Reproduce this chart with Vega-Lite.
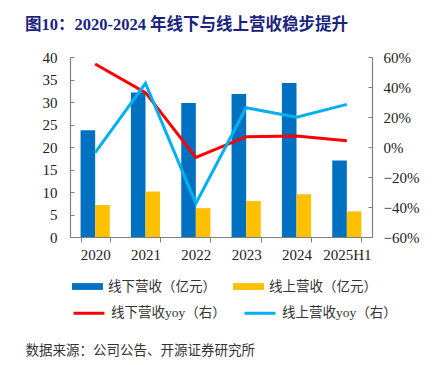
{
  "$schema": "https://vega.github.io/schema/vega-lite/v6.json",
  "autosize": "none",
  "width": 302,
  "height": 180,
  "padding": {"left": 70, "top": 57, "right": 65, "bottom": 128},
  "background": "white",
  "config": {"view": {"stroke": null}},
  "title": {
    "text": "图10：2020-2024 年线下与线上营收稳步提升",
    "anchor": "start",
    "frame": "group",
    "font": "Liberation Serif, Noto Sans CJK SC",
    "fontSize": 16.5,
    "fontWeight": "bold",
    "color": "#1a237e",
    "dx": -45,
    "baseline": "alphabetic",
    "offset": 4
  },
  "data": {
    "values": [
      {"year": "2020", "线下营收（亿元）": 23.7, "线上营收（亿元）": 7.1, "线下营收yoy（右）": 0.553, "线上营收yoy（右）": -0.038},
      {"year": "2021", "线下营收（亿元）": 32.1, "线上营收（亿元）": 10.1, "线下营收yoy（右）": 0.362, "线上营收yoy（右）": 0.424},
      {"year": "2022", "线下营收（亿元）": 29.8, "线上营收（亿元）": 6.4, "线下营收yoy（右）": -0.069, "线上营收yoy（右）": -0.376},
      {"year": "2023", "线下营收（亿元）": 31.8, "线上营收（亿元）": 8.0, "线下营收yoy（右）": 0.069, "线上营收yoy（右）": 0.262},
      {"year": "2024", "线下营收（亿元）": 34.2, "线上营收（亿元）": 9.5, "线下营收yoy（右）": 0.073, "线上营收yoy（右）": 0.198},
      {"year": "2025H1", "线下营收（亿元）": 17.0, "线上营收（亿元）": 5.7, "线下营收yoy（右）": 0.042, "线上营收yoy（右）": 0.284}
    ]
  },
  "encoding": {
    "x": {
      "field": "year",
      "type": "nominal",
      "sort": null,
      "scale": {"paddingInner": 0.42, "paddingOuter": 0.21},
      "axis": {
        "title": "数据来源：公司公告、开源证券研究所",
        "titleX": -45,
        "titleY": 113,
        "titleAlign": "left",
        "titleAnchor": null,
        "titleBaseline": "middle",
        "titleFont": "Noto Sans CJK SC",
        "titleFontSize": 13.5,
        "titleFontWeight": "normal",
        "titleColor": "#333333",
        "labelAngle": 0,
        "labelFont": "Liberation Serif",
        "labelFontSize": 15,
        "labelColor": "#222222",
        "labelPadding": 5,
        "tickBand": "extent",
        "tickSize": 5,
        "tickColor": "#808080",
        "domainColor": "#808080",
        "domainWidth": 1.2
      }
    }
  },
  "layer": [
    {
      "transform": [{"fold": ["线下营收（亿元）", "线上营收（亿元）"], "as": ["series", "value"]}],
      "mark": {"type": "bar"},
      "encoding": {
        "xOffset": {"field": "series", "type": "nominal", "sort": ["线下营收（亿元）", "线上营收（亿元）"]},
        "y": {
          "field": "value",
          "type": "quantitative",
          "scale": {"domain": [0, 40]},
          "axis": {
            "title": null,
            "values": [0, 5, 10, 15, 20, 25, 30, 35, 40],
            "grid": false,
            "labelFont": "Liberation Serif",
            "labelFontSize": 15,
            "labelColor": "#222222",
            "tickSize": -4,
            "labelPadding": 17,
            "tickColor": "#808080",
            "domainColor": "#808080",
            "domainWidth": 1.2
          }
        },
        "color": {
          "field": "series",
          "type": "nominal",
          "scale": {"domain": ["线下营收（亿元）", "线上营收（亿元）"], "range": ["#0070C0", "#FFC000"]},
          "legend": {
            "title": null,
            "orient": "none",
            "legendX": 2,
            "legendY": 214,
            "columns": 2,
            "columnPadding": 17,
            "symbolType": "M-1,-0.22L1,-0.22L1,0.22L-1,0.22Z",
            "symbolSize": 961,
            "symbolStrokeWidth": 0,
            "labelOffset": 5,
            "labelFont": "Liberation Serif, Noto Sans CJK SC",
            "labelFontSize": 13.5,
            "labelColor": "#333333",
            "labelLimit": 300
          }
        }
      }
    },
    {
      "transform": [{"fold": ["线下营收yoy（右）", "线上营收yoy（右）"], "as": ["series2", "yoy"]}],
      "mark": {"type": "line", "strokeWidth": 3},
      "encoding": {
        "y": {
          "field": "yoy",
          "type": "quantitative",
          "scale": {"domain": [-0.6, 0.6]},
          "axis": {
            "title": null,
            "orient": "right",
            "format": ".0%",
            "values": [-0.6, -0.4, -0.2, 0, 0.2, 0.4, 0.6],
            "grid": false,
            "labelFont": "Liberation Serif",
            "labelFontSize": 15,
            "labelColor": "#222222",
            "tickSize": -4,
            "labelPadding": 15,
            "tickColor": "#808080",
            "domainColor": "#808080",
            "domainWidth": 1.2
          }
        },
        "stroke": {
          "field": "series2",
          "type": "nominal",
          "scale": {"domain": ["线下营收yoy（右）", "线上营收yoy（右）"], "range": ["#FF0000", "#00B0F0"]},
          "legend": {
            "title": null,
            "orient": "none",
            "legendX": 2,
            "legendY": 239,
            "columns": 2,
            "columnPadding": 12,
            "symbolType": "stroke",
            "symbolSize": 961,
            "symbolStrokeWidth": 3,
            "labelOffset": 5,
            "labelFont": "Liberation Serif, Noto Sans CJK SC",
            "labelFontSize": 13.5,
            "labelColor": "#333333",
            "labelLimit": 300
          }
        }
      }
    }
  ],
  "resolve": {"scale": {"y": "independent"}}
}
